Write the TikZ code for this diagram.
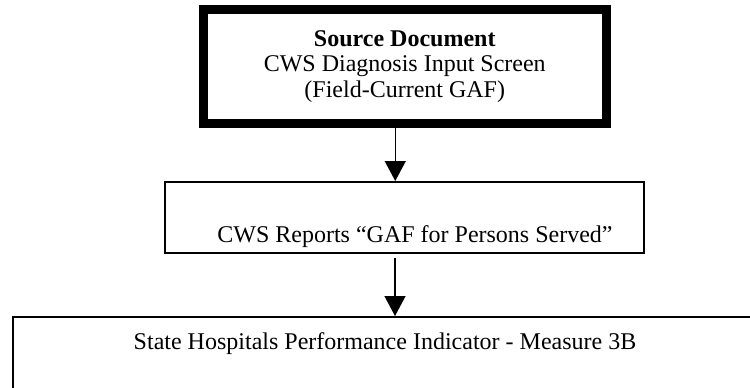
\documentclass[tikz,border=0pt]{standalone}
\usepackage{fontspec}
\setmainfont{Liberation Serif}
\usetikzlibrary{arrows.meta}

\begin{document}
\begin{tikzpicture}[x=0.5pt, y=-0.5pt,
    box/.style={draw, line width=1pt, inner sep=0pt},
    srcbox/.style={draw, line width=4.5pt, inner sep=0pt, align=center, font=\fontsize{12}{12.75}\selectfont},
    txt/.style={inner sep=0pt, font=\fontsize{12}{12.75}\selectfont},
    flow/.style={-{Triangle[length=10pt, width=10.5pt]}, line width=0.65pt}]
  \useasboundingbox (0,0) rectangle (750,387);
  \clip (0,0) rectangle (750,387);
  % source screen
  \node[srcbox, minimum width=201.25pt, minimum height=57pt] (src) at (404.75,66.5)
    {\textbf{Source Document}\\CWS Diagnosis Input Screen\\(Field-Current GAF)};
  % report
  \node[box, minimum width=239.5pt, minimum height=35.5pt] (rep) at (404.5,217.5) {};
  \node[txt, anchor=base] (reptxt) at (415,242) {CWS Reports “GAF for Persons Served”};
  % indicator
  \node[box, anchor=north west, minimum width=380pt, minimum height=60pt] (ind) at (12,316) {};
  \node[txt, anchor=base] (indtxt) at (385,349) {State Hospitals Performance Indicator - Measure 3B};
  % arrows
  \draw[flow] ([xshift=-4.75pt]src.south) -- ([xshift=-4.75pt]src.south |- rep.north);
  \draw[flow, shorten <=2pt] ([xshift=-4.75pt]rep.south) -- ([xshift=-4.75pt]rep.south |- ind.north);
\end{tikzpicture}
\end{document}
